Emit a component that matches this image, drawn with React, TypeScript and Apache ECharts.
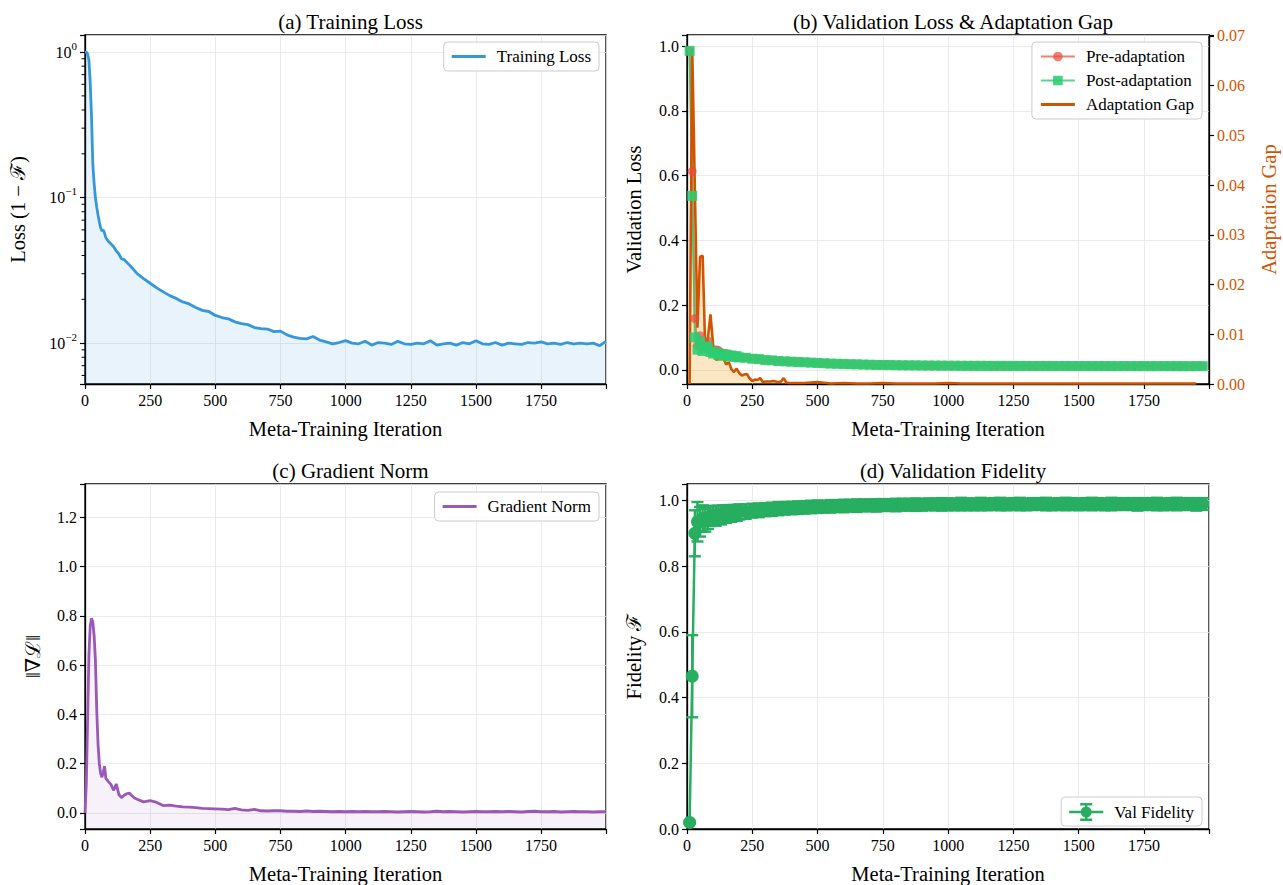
import React, { useEffect, useRef } from 'react';
import * as echarts from 'echarts';

const FONT = '"Liberation Serif", "DejaVu Serif", serif';
const TICK_FS = 16;
const NAME_FS = 20.5;
const X_MAX = 1999;

// ---------- data ----------
const trainIters = [0, 5, 10, 15, 20, 25, 30, 35, 40, 45, 50, 55, 60, 65, 70, 75, 80,
  90, 100, 110, 120, 130, 140, 150, 160, 170, 180, 190, 200,
  225, 250, 275, 300, 325, 350, 375, 400, 425, 450, 475, 500, 525, 550, 575, 600,
  625, 650, 675, 700, 725, 750, 775, 800, 825, 850, 875, 900, 925, 950, 975, 1000,
  1025, 1050, 1075, 1100, 1125, 1150, 1175, 1200, 1225, 1250, 1275, 1300, 1325, 1350, 1375, 1400,
  1425, 1450, 1475, 1500, 1525, 1550, 1575, 1600, 1625, 1650, 1675, 1700, 1725, 1750, 1775, 1800,
  1825, 1850, 1875, 1900, 1925, 1950, 1975, 1999];

const trainLoss = [1.0, 1.0, 0.97, 0.88, 0.62, 0.36, 0.17, 0.125, 0.10, 0.086, 0.076, 0.068, 0.062, 0.059, 0.060, 0.057, 0.053,
  0.050, 0.048, 0.046, 0.043, 0.041, 0.038, 0.0375, 0.036, 0.0345, 0.033, 0.0315, 0.030,
  0.0278, 0.0258, 0.0240, 0.0225, 0.0212, 0.0203, 0.0192, 0.0186, 0.0176, 0.0168, 0.0165, 0.0155, 0.0150, 0.0147, 0.0140, 0.0136,
  0.0134, 0.0128, 0.0126, 0.0125, 0.0120, 0.0121, 0.0114, 0.0110, 0.0108, 0.0107, 0.0111, 0.0105, 0.0102, 0.0099, 0.0101, 0.0104,
  0.0100, 0.0099, 0.0103, 0.0097, 0.0101, 0.0100, 0.0098, 0.0103, 0.0099, 0.0098, 0.0100, 0.0099, 0.0104, 0.0097, 0.0099, 0.0100,
  0.0097, 0.0101, 0.0099, 0.0104, 0.0099, 0.0098, 0.0101, 0.0097, 0.0100, 0.0099, 0.0098, 0.0101, 0.0100, 0.0102, 0.0099, 0.0100,
  0.0098, 0.0101, 0.0099, 0.0100, 0.0099, 0.0100, 0.0096, 0.0103];

const gradNorm = [0.0, 0.12, 0.38, 0.64, 0.76, 0.79, 0.775, 0.72, 0.62, 0.42, 0.28, 0.20, 0.16, 0.145, 0.165, 0.19, 0.14,
  0.127, 0.115, 0.092, 0.118, 0.075, 0.062, 0.072, 0.078, 0.081, 0.070, 0.061, 0.056,
  0.045, 0.050, 0.043, 0.030, 0.032, 0.028, 0.025, 0.024, 0.022, 0.019, 0.018, 0.017, 0.016, 0.014, 0.019, 0.013,
  0.011, 0.015, 0.009, 0.008, 0.009, 0.009, 0.007, 0.007, 0.006, 0.008, 0.006, 0.007, 0.006, 0.005, 0.006, 0.005,
  0.006, 0.005, 0.006, 0.005, 0.005, 0.006, 0.005, 0.004, 0.005, 0.006, 0.005, 0.004, 0.005, 0.007, 0.005, 0.006,
  0.005, 0.004, 0.005, 0.006, 0.005, 0.005, 0.006, 0.005, 0.006, 0.005, 0.004, 0.006, 0.007, 0.005, 0.005, 0.006,
  0.004, 0.005, 0.006, 0.005, 0.005, 0.004, 0.005, 0.005];

const valIters = [10, 20, 30, 40, 50, 60, 70, 80, 90, 100, 110, 120, 130, 140, 150, 160, 170, 180, 190, 200,
  225, 250, 275, 300, 325, 350, 375, 400, 425, 450, 475, 500, 525, 550, 575, 600,
  625, 650, 675, 700, 725, 750, 775, 800, 825, 850, 875, 900, 925, 950, 975, 1000,
  1025, 1050, 1075, 1100, 1125, 1150, 1175, 1200, 1225, 1250, 1275, 1300, 1325, 1350, 1375, 1400,
  1425, 1450, 1475, 1500, 1525, 1550, 1575, 1600, 1625, 1650, 1675, 1700, 1725, 1750, 1775, 1800,
  1825, 1850, 1875, 1900, 1925, 1950, 1975];

const preLoss = [0.985, 0.613, 0.158, 0.075, 0.105, 0.070, 0.078, 0.088, 0.064, 0.058, 0.062, 0.060, 0.053, 0.050, 0.050, 0.045, 0.046, 0.042, 0.043, 0.039,
  0.0375, 0.0345, 0.0334, 0.0303, 0.0293, 0.0273, 0.0262, 0.0252, 0.0242, 0.0232, 0.0222, 0.0212, 0.0202, 0.0192, 0.0186, 0.0181,
  0.0171, 0.0169, 0.0161, 0.0156, 0.0151, 0.0149, 0.0146, 0.0141, 0.0139, 0.0137, 0.0136, 0.0133, 0.0131, 0.0129, 0.0128, 0.0126,
  0.0125, 0.0124, 0.0123, 0.0122, 0.0123, 0.0121, 0.0120, 0.0121, 0.0119, 0.0120, 0.0118, 0.0119, 0.0117, 0.0118, 0.0119, 0.0117,
  0.0116, 0.0118, 0.0117, 0.0116, 0.0117, 0.0115, 0.0116, 0.0117, 0.0115, 0.0114, 0.0116, 0.0115, 0.0114, 0.0115, 0.0113, 0.0114,
  0.0115, 0.0113, 0.0114, 0.0113, 0.0112, 0.0114, 0.0113];

const postLoss = [0.985, 0.537, 0.100, 0.062, 0.088, 0.058, 0.068, 0.072, 0.055, 0.050, 0.054, 0.046, 0.049, 0.043, 0.047, 0.041, 0.044, 0.040, 0.042, 0.038,
  0.037, 0.034, 0.033, 0.030, 0.029, 0.027, 0.026, 0.025, 0.024, 0.023, 0.022, 0.021, 0.020, 0.019, 0.0185, 0.018,
  0.017, 0.0168, 0.016, 0.0155, 0.015, 0.0148, 0.0145, 0.014, 0.0138, 0.0136, 0.0135, 0.0132, 0.013, 0.0128, 0.0127, 0.0125,
  0.0124, 0.0123, 0.0122, 0.0121, 0.0122, 0.0120, 0.0119, 0.0120, 0.0118, 0.0119, 0.0117, 0.0118, 0.0116, 0.0117, 0.0118, 0.0116,
  0.0115, 0.0117, 0.0116, 0.0115, 0.0116, 0.0114, 0.0115, 0.0116, 0.0114, 0.0113, 0.0115, 0.0114, 0.0113, 0.0114, 0.0112, 0.0113,
  0.0114, 0.0112, 0.0113, 0.0112, 0.0111, 0.0113, 0.0112];

const valFidelity = [0.02, 0.465, 0.900, 0.935, 0.935, 0.945, 0.940, 0.948, 0.952, 0.955, 0.953, 0.958, 0.955, 0.960, 0.958, 0.962, 0.960, 0.963, 0.962, 0.965,
  0.966, 0.969, 0.970, 0.972, 0.973, 0.975, 0.976, 0.977, 0.978, 0.979, 0.980, 0.981, 0.981, 0.982, 0.983, 0.983,
  0.984, 0.984, 0.985, 0.985, 0.985, 0.986, 0.986, 0.986, 0.987, 0.987, 0.987, 0.987, 0.988, 0.988, 0.988, 0.988,
  0.988, 0.989, 0.988, 0.988, 0.989, 0.988, 0.989, 0.989, 0.988, 0.989, 0.989, 0.988, 0.989, 0.989, 0.989, 0.988,
  0.989, 0.989, 0.989, 0.988, 0.989, 0.989, 0.989, 0.988, 0.989, 0.989, 0.989, 0.989, 0.988, 0.989, 0.989, 0.989,
  0.988, 0.989, 0.989, 0.989, 0.989, 0.988, 0.989];

const valFidelityStd = [0.004, 0.125, 0.070, 0.060, 0.045, 0.040, 0.035, 0.035, 0.030, 0.028, 0.030, 0.026, 0.028, 0.025, 0.026, 0.024, 0.025, 0.023, 0.024, 0.023,
  0.022, 0.021, 0.021, 0.020, 0.020, 0.020, 0.019, 0.019, 0.019, 0.019, 0.019, 0.019, 0.018, 0.019, 0.018, 0.019,
  0.018, 0.019, 0.018, 0.018, 0.019, 0.018, 0.018, 0.019, 0.018, 0.018, 0.019, 0.018, 0.018, 0.018, 0.019, 0.018,
  0.018, 0.019, 0.018, 0.018, 0.019, 0.018, 0.018, 0.019, 0.018, 0.018, 0.019, 0.018, 0.018, 0.018, 0.019, 0.018,
  0.018, 0.019, 0.018, 0.018, 0.018, 0.019, 0.018, 0.018, 0.019, 0.018, 0.018, 0.018, 0.019, 0.018, 0.018, 0.019,
  0.018, 0.018, 0.019, 0.018, 0.018, 0.019, 0.018];

const gapIters = [10, 20, 30, 40, 50, 60, 70, 80, 90, 100, 110, 120, 130, 140, 150, 160, 170, 180, 190, 200,
  210, 220, 230, 240, 250, 260, 270, 280, 290, 300, 310, 320, 330, 340, 350, 360, 370, 380, 390, 400,
  450, 500, 550, 600, 650, 700, 750, 800, 850, 900, 950, 1000, 1050, 1100, 1150, 1200, 1250, 1300, 1350, 1400,
  1450, 1500, 1550, 1600, 1650, 1700, 1750, 1800, 1850, 1900, 1950];

const adaptGap = [0.0, 0.0676, 0.0395, 0.0113, 0.0256, 0.0258, 0.0064, 0.0092, 0.0140, 0.0078, 0.0049, 0.0050, 0.0054, 0.0052, 0.0039, 0.0044, 0.0030, 0.0024, 0.0031, 0.0022,
  0.0017, 0.0019, 0.0020, 0.0011, 0.0006, 0.0009, 0.0008, 0.0012, 0.0004, 0.0005, 0.0005, 0.0005, 0.0006, 0.0005, 0.0004, 0.0005, 0.0012, 0.0003, 0.0002, 0.0002,
  0.0002, 0.0004, 0.0001, 0.0002, 0.0001, 0.0001, 0.0002, 0.0001, 0.0001, 0.0001, 0.0001, 0.0002, 0.0001, 0.0001, 0.0001, 0.0001, 0.0001, 0.0001, 0.0001, 0.0001,
  0.0001, 0.0001, 0.0001, 0.0001, 0.0001, 0.0001, 0.0001, 0.0001, 0.0001, 0.0001, 0.0001];

const logMinorTicks = [0.006, 0.007, 0.008, 0.009, 0.02, 0.03, 0.04, 0.05, 0.06, 0.07, 0.08, 0.09,
  0.2, 0.3, 0.4, 0.5, 0.6, 0.7, 0.8, 0.9];

// ---------- helpers ----------
const pairs = (xs: number[], ys: number[]) => xs.map((x, i) => [x, ys[i]]);
const isMult = (v: number, step: number) => Math.abs(v / step - Math.round(v / step)) < 1e-6;

const textBase = { fontFamily: FONT, color: '#000' };

const LINE_ICON = 'path://M0 0H34V3H0Z';
const ERR_ICON = 'path://M0 7.75H34V10.25H0Z M15.75 1H18.25V17H15.75Z M11 0H23V2.5H11Z M11 15.5H23V18H11Z M22.5 9A5.5 5.5 0 1 1 11.5 9A5.5 5.5 0 1 1 22.5 9Z';

const xAxisFor = (gridIndex: number) => ({
  type: 'value', gridIndex, min: 0, max: X_MAX, interval: 250,
  name: 'Meta-Training Iteration', nameLocation: 'middle', nameGap: 34,
  nameTextStyle: { ...textBase, fontSize: NAME_FS },
  axisLine: { show: true, onZero: false, lineStyle: { color: '#000', width: 1.3 } },
  axisTick: { show: true, inside: false, length: 5, lineStyle: { color: '#000', width: 1.2 } },
  axisLabel: { ...textBase, fontSize: TICK_FS, margin: 8, formatter: (v: number) => (isMult(v, 250) ? String(v) : '') },
  splitLine: { show: true, lineStyle: { color: '#e6e6e6', width: 0.8 } },
});

const yBase = (gridIndex: number, name: string, nameGap: number) => ({
  gridIndex, name, nameLocation: 'middle', nameGap, nameRotate: 90,
  nameTextStyle: { ...textBase, fontSize: NAME_FS },
  axisLine: { show: true, onZero: false, lineStyle: { color: '#000', width: 1.3 } },
  axisTick: { show: true, inside: false, length: 5, lineStyle: { color: '#000', width: 1.2 } },
  splitLine: { show: true, lineStyle: { color: '#e6e6e6', width: 0.8 } },
});

const legendCommon = {
  orient: 'vertical', itemWidth: 34, itemHeight: 12, itemGap: 8,
  padding: [6, 8, 6, 8], borderColor: '#cccccc', borderWidth: 1, borderRadius: 4,
  backgroundColor: 'rgba(255,255,255,0.85)', selectedMode: false,
  textStyle: { ...textBase, fontSize: 17, padding: [0, 0, 0, 6] },
};

const gridCommon = { show: true, borderColor: '#000', borderWidth: 1.3, backgroundColor: 'transparent' };

export default function App() {
  const ref = useRef<HTMLDivElement>(null);

  useEffect(() => {
    if (!ref.current) return;
    const chart = echarts.init(ref.current, undefined, { renderer: 'svg' });

    const option: any = {
      animation: false,
      backgroundColor: '#ffffff',
      title: [
        { text: '(a) Training Loss', left: 345.5, top: 6, textAlign: 'center' },
        { text: '(b) Validation Loss & Adaptation Gap', left: 948, top: 6, textAlign: 'center' },
        { text: '(c) Gradient Norm', left: 345.5, top: 455, textAlign: 'center' },
        { text: '(d) Validation Fidelity', left: 948, top: 455, textAlign: 'center' },
      ].map((t) => ({ ...t, textStyle: { ...textBase, fontSize: 21, fontWeight: 'normal' } })),
      grid: [
        { ...gridCommon, left: 85, top: 35, width: 521, height: 349 },
        { ...gridCommon, left: 687, top: 35, width: 522, height: 349 },
        { ...gridCommon, left: 85, top: 484, width: 521, height: 349 },
        { ...gridCommon, left: 687, top: 484, width: 522, height: 349 },
      ],
      legend: [
        { ...legendCommon, data: [{ name: 'Training Loss', icon: LINE_ICON }], right: 684, top: 42 },
        {
          ...legendCommon,
          data: ['Pre-adaptation', 'Post-adaptation', { name: 'Adaptation Gap', icon: LINE_ICON }],
          right: 81, top: 42, itemGap: 7,
        },
        { ...legendCommon, data: [{ name: 'Gradient Norm', icon: LINE_ICON }], right: 684, top: 492 },
        { ...legendCommon, data: [{ name: 'Val Fidelity', icon: ERR_ICON }], itemHeight: 18, right: 81, bottom: 59, padding: [6, 8, 5, 8] },
      ],
      xAxis: [xAxisFor(0), xAxisFor(1), xAxisFor(2), xAxisFor(3)],
      yAxis: [
        {
          ...yBase(0, 'Loss (1 − ℱ)', 57), type: 'log', logBase: 10, min: 0.00524, max: 1.31,
          axisLabel: {
            ...textBase, fontSize: TICK_FS, margin: 8,
            formatter: (v: number) => {
              const e = Math.round(Math.log10(v));
              if (Math.abs(v / Math.pow(10, e) - 1) > 1e-6) return '';
              const s = e < 0 ? '−' + String(-e) : String(e);
              return '{b|10}{s|' + s + '}';
            },
            rich: {
              b: { ...textBase, fontSize: TICK_FS, lineHeight: 24, verticalAlign: 'middle' },
              s: { ...textBase, fontSize: 11, lineHeight: 12, verticalAlign: 'top' },
            },
          },
        },
        {
          ...yBase(1, 'Validation Loss', 43), type: 'value', min: -0.044, max: 1.034, splitNumber: 5,
          axisLabel: { ...textBase, fontSize: TICK_FS, margin: 8, formatter: (v: number) => (isMult(v, 0.2) ? v.toFixed(1) : '') },
        },
        {
          ...yBase(1, 'Adaptation Gap', 49), type: 'value', position: 'right', min: 0, max: 0.0702, interval: 0.01,
          nameTextStyle: { ...textBase, fontSize: NAME_FS, color: '#d35400' },
          splitLine: { show: false },
          axisLabel: { ...textBase, color: '#d35400', fontSize: TICK_FS, margin: 8, formatter: (v: number) => (isMult(v, 0.01) ? v.toFixed(2) : '') },
        },
        {
          ...yBase(2, '‖∇ℒ‖', 42), type: 'value', min: -0.065, max: 1.335, splitNumber: 7,
          axisLabel: { ...textBase, fontSize: TICK_FS, margin: 8, formatter: (v: number) => (isMult(v, 0.2) ? v.toFixed(1) : '') },
        },
        {
          ...yBase(3, 'Fidelity ℱ', 43), type: 'value', min: 0, max: 1.05, interval: 0.2,
          axisLabel: { ...textBase, fontSize: TICK_FS, margin: 8, formatter: (v: number) => (isMult(v, 0.2) ? v.toFixed(1) : '') },
        },
      ],
      series: [
        // (a)
        {
          type: 'line', name: 'lossFill', xAxisIndex: 0, yAxisIndex: 0, data: pairs(trainIters, trainLoss),
          symbol: 'none', silent: true, lineStyle: { width: 0, opacity: 0 },
          areaStyle: { color: 'rgba(52,152,219,0.16)', origin: 'start' },
        },
        {
          type: 'line', name: 'Training Loss', xAxisIndex: 0, yAxisIndex: 0, data: pairs(trainIters, trainLoss),
          symbol: 'none', lineStyle: { color: '#3498db', width: 2.8 }, itemStyle: { color: '#3498db' },
        },
        {
          type: 'custom', name: 'logMinorTicks', xAxisIndex: 0, yAxisIndex: 0, silent: true, clip: false,
          data: logMinorTicks.map((v) => [0, v]),
          renderItem: (params: any, api: any) => {
            const p = api.coord([api.value(0), api.value(1)]);
            return { type: 'line', shape: { x1: p[0] - 3.5, y1: p[1], x2: p[0], y2: p[1] }, style: { stroke: '#000', lineWidth: 1 } };
          },
        },
        // (b)
        {
          type: 'line', name: 'Pre-adaptation', xAxisIndex: 1, yAxisIndex: 1, data: pairs(valIters, preLoss),
          symbol: 'circle', symbolSize: 9, lineStyle: { color: '#e74c3c', width: 2, opacity: 0.7 },
          itemStyle: { color: '#e74c3c', opacity: 0.7 },
        },
        {
          type: 'line', name: 'Post-adaptation', xAxisIndex: 1, yAxisIndex: 1, data: pairs(valIters, postLoss),
          symbol: 'rect', symbolSize: 10, lineStyle: { color: '#2ecc71', width: 2, opacity: 0.8 },
          itemStyle: { color: '#2ecc71', opacity: 0.88 },
        },
        {
          type: 'line', name: 'gapFill', xAxisIndex: 1, yAxisIndex: 2, data: pairs(gapIters, adaptGap),
          symbol: 'none', silent: true, lineStyle: { width: 0, opacity: 0 },
          areaStyle: { color: 'rgba(243,156,18,0.35)', origin: 'start' },
        },
        {
          type: 'line', name: 'Adaptation Gap', xAxisIndex: 1, yAxisIndex: 2, data: pairs(gapIters, adaptGap),
          symbol: 'none', lineStyle: { color: '#d35400', width: 2.6 }, itemStyle: { color: '#d35400' },
        },
        // (c)
        {
          type: 'line', name: 'gradFill', xAxisIndex: 2, yAxisIndex: 3, data: pairs(trainIters, gradNorm),
          symbol: 'none', silent: true, lineStyle: { width: 0, opacity: 0 },
          areaStyle: { color: 'rgba(155,89,182,0.12)', origin: 'start' },
        },
        {
          type: 'line', name: 'Gradient Norm', xAxisIndex: 2, yAxisIndex: 3, data: pairs(trainIters, gradNorm),
          symbol: 'none', lineStyle: { color: '#9b59b6', width: 2.8 }, itemStyle: { color: '#9b59b6' },
        },
        // (d)
        {
          type: 'custom', name: 'fidelityErr', xAxisIndex: 3, yAxisIndex: 4, silent: true,
          data: valIters.map((x, i) => [x, valFidelity[i], valFidelityStd[i]]),
          encode: { x: 0, y: 1 },
          renderItem: (params: any, api: any) => {
            const x = api.value(0), y = api.value(1), s = api.value(2);
            const lo = api.coord([x, y - s]);
            const hi = api.coord([x, y + s]);
            const c = 6;
            const st = { stroke: '#27ae60', lineWidth: 2.4 };
            return {
              type: 'group',
              children: [
                { type: 'line', shape: { x1: lo[0], y1: lo[1], x2: hi[0], y2: hi[1] }, style: st },
                { type: 'line', shape: { x1: lo[0] - c, y1: lo[1], x2: lo[0] + c, y2: lo[1] }, style: st },
                { type: 'line', shape: { x1: hi[0] - c, y1: hi[1], x2: hi[0] + c, y2: hi[1] }, style: st },
              ],
            };
          },
        },
        {
          type: 'line', name: 'Val Fidelity', xAxisIndex: 3, yAxisIndex: 4, data: pairs(valIters, valFidelity),
          symbol: 'circle', symbolSize: 13, lineStyle: { color: '#27ae60', width: 2.5 }, itemStyle: { color: '#27ae60' },
        },
      ],
    };

    chart.setOption(option);
    return () => chart.dispose();
  }, []);

  return <div ref={ref} style={{ position: 'fixed', left: 0, top: 0, width: 1283, height: 885 }} />;
}
